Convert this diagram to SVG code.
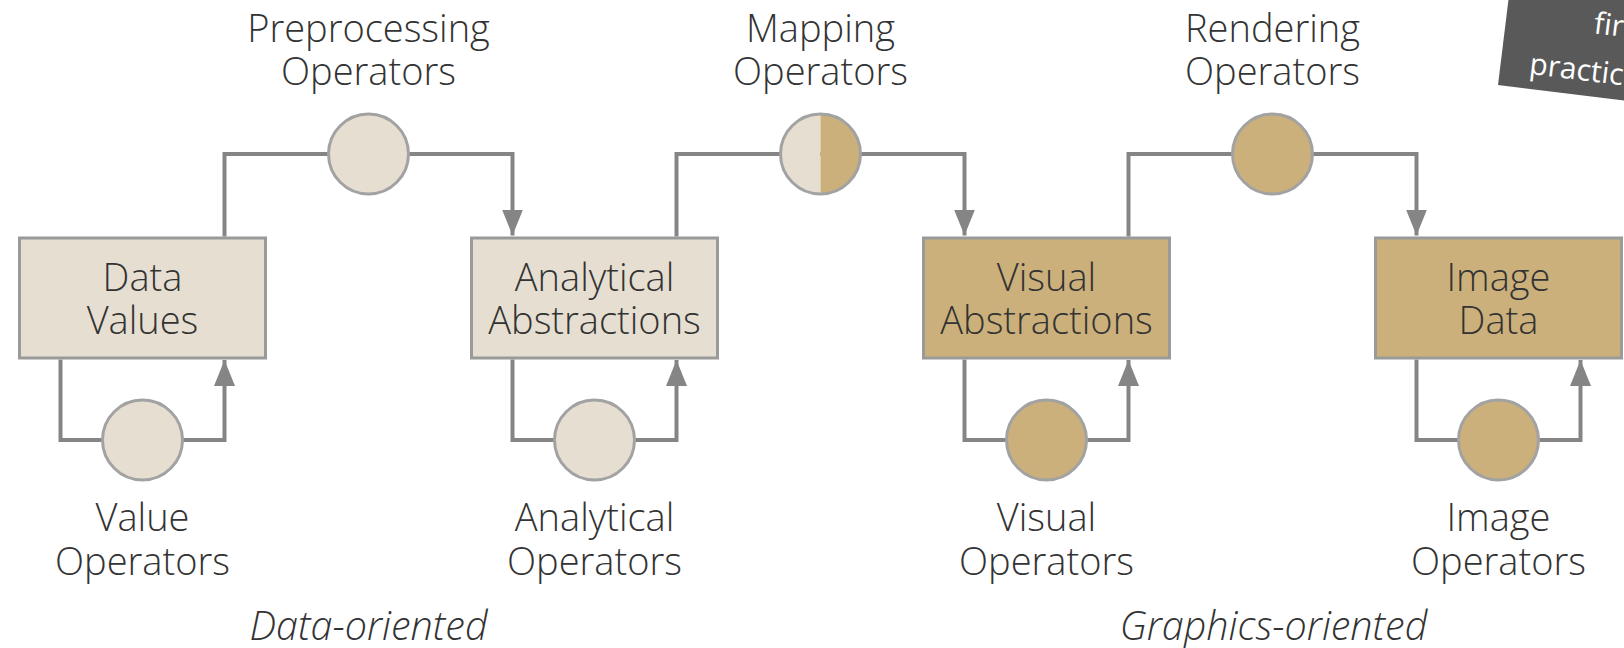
<svg xmlns="http://www.w3.org/2000/svg" width="1624" height="648" viewBox="0 0 1624 648">
  <defs>
    <style>
      .lbl { font-family: "Open Sans", "Noto Sans", "DejaVu Sans", sans-serif; font-weight: 300; font-size: 38px; fill: #333333; text-anchor: middle; }
      .cap { font-family: "Open Sans", "Noto Sans", "DejaVu Sans", sans-serif; font-weight: 300; font-style: italic; font-size: 39.5px; fill: #333333; text-anchor: middle; }
      .note { font-family: "Open Sans", "Noto Sans", "DejaVu Sans", sans-serif; font-weight: 400; font-size: 30px; fill: #ffffff; }
      .box { stroke: #9a9a9a; stroke-width: 3; }
      .op { stroke: #a2a2a2; stroke-width: 3; }
      .light { fill: #e6dfd1; }
      .dark { fill: #cbb07b; }
      .wire { fill: none; stroke: #858585; stroke-width: 4; stroke-linejoin: miter; }
    </style>
    <marker id="arrow" viewBox="0 0 26 21" refX="26" refY="10.5" markerWidth="26" markerHeight="21" markerUnits="userSpaceOnUse" orient="auto">
      <path d="M0,0 L26,10.5 L0,21 Z" fill="#858585"/>
    </marker>
  </defs>

  <!-- connectors: loops under each stage and links over the top -->
  <g id="connectors">
    <path class="wire" d="M60.5,359.5 V440 H224.5 V360" marker-end="url(#arrow)"/>
    <path class="wire" d="M512.5,359.5 V440 H676.5 V360" marker-end="url(#arrow)"/>
    <path class="wire" d="M964.5,359.5 V440 H1128.5 V360" marker-end="url(#arrow)"/>
    <path class="wire" d="M1416.5,359.5 V440 H1580.5 V360" marker-end="url(#arrow)"/>
    <path class="wire" d="M224.5,236.5 V154 H512.5 V235.5" marker-end="url(#arrow)"/>
    <path class="wire" d="M676.5,236.5 V154 H964.5 V235.5" marker-end="url(#arrow)"/>
    <path class="wire" d="M1128.5,236.5 V154 H1416.5 V235.5" marker-end="url(#arrow)"/>
  </g>

  <!-- stages -->
  <g id="data-values">
    <rect class="box light" x="19.5" y="238" width="246" height="120"/>
    <text class="lbl" x="142.5" y="291">Data</text>
    <text class="lbl" x="142.5" y="334">Values</text>
  </g>
  <g id="analytical-abstractions">
    <rect class="box light" x="471.5" y="238" width="246" height="120"/>
    <text class="lbl" x="594.5" y="291">Analytical</text>
    <text class="lbl" x="594.5" y="334">Abstractions</text>
  </g>
  <g id="visual-abstractions">
    <rect class="box dark" x="923.5" y="238" width="246" height="120"/>
    <text class="lbl" x="1046.5" y="291">Visual</text>
    <text class="lbl" x="1046.5" y="334">Abstractions</text>
  </g>
  <g id="image-data">
    <rect class="box dark" x="1375.5" y="238" width="246" height="120"/>
    <text class="lbl" x="1498.5" y="291">Image</text>
    <text class="lbl" x="1498.5" y="334">Data</text>
  </g>

  <!-- operators between stages -->
  <g id="preprocessing-operators">
    <circle class="op light" cx="368.5" cy="154" r="40"/>
    <text class="lbl" x="368.5" y="42">Preprocessing</text>
    <text class="lbl" x="368.5" y="85">Operators</text>
  </g>
  <g id="mapping-operators">
    <path class="light" d="M820.5,114 A40,40 0 0 0 820.5,194 Z"/>
    <path class="dark" d="M820.5,114 A40,40 0 0 1 820.5,194 Z"/>
    <circle class="op" cx="820.5" cy="154" r="40" fill="none"/>
    <text class="lbl" x="820.5" y="42">Mapping</text>
    <text class="lbl" x="820.5" y="85">Operators</text>
  </g>
  <g id="rendering-operators">
    <circle class="op dark" cx="1272.5" cy="154" r="40"/>
    <text class="lbl" x="1272.5" y="42">Rendering</text>
    <text class="lbl" x="1272.5" y="85">Operators</text>
  </g>

  <!-- operators within stages -->
  <g id="value-operators">
    <circle class="op light" cx="142.5" cy="440" r="40"/>
    <text class="lbl" x="142.5" y="531">Value</text>
    <text class="lbl" x="142.5" y="575">Operators</text>
  </g>
  <g id="analytical-operators">
    <circle class="op light" cx="594.5" cy="440" r="40"/>
    <text class="lbl" x="594.5" y="531">Analytical</text>
    <text class="lbl" x="594.5" y="575">Operators</text>
  </g>
  <g id="visual-operators">
    <circle class="op dark" cx="1046.5" cy="440" r="40"/>
    <text class="lbl" x="1046.5" y="531">Visual</text>
    <text class="lbl" x="1046.5" y="575">Operators</text>
  </g>
  <g id="image-operators">
    <circle class="op dark" cx="1498.5" cy="440" r="40"/>
    <text class="lbl" x="1498.5" y="531">Image</text>
    <text class="lbl" x="1498.5" y="575">Operators</text>
  </g>

  <!-- section captions -->
  <text class="cap" x="368.5" y="640">Data-oriented</text>
  <text class="cap" x="1273.5" y="640">Graphics-oriented</text>

  <!-- tilted note in the corner -->
  <g id="note" transform="translate(1498,85) rotate(7)">
    <rect x="0" y="-300" width="400" height="300" fill="#595959"/>
    <text class="note" x="88" y="-63">fir</text>
    <text class="note" x="29" y="-15">practic</text>
  </g>
</svg>
